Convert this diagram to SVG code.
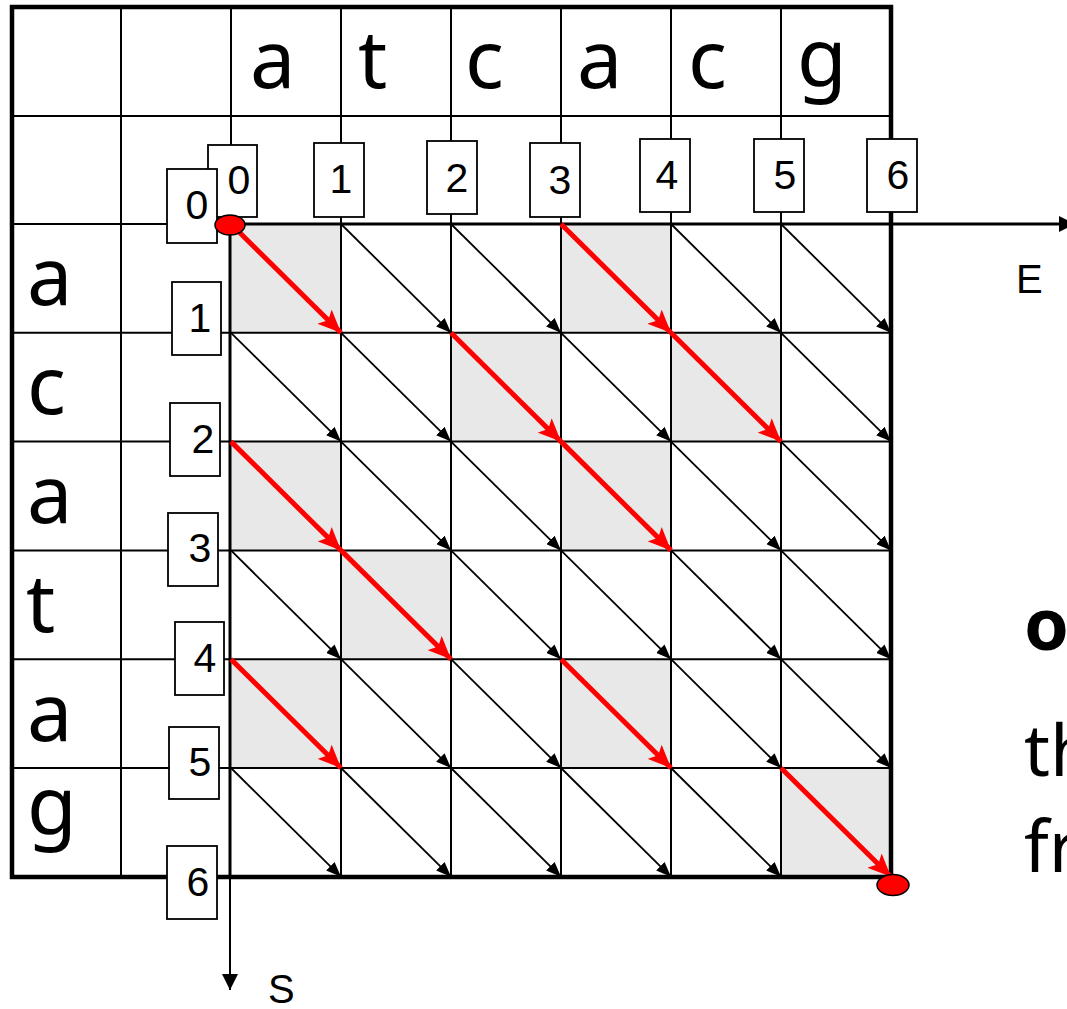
<svg xmlns="http://www.w3.org/2000/svg" width="1067" height="1009" viewBox="0 0 1067 1009">
<style>
.g{stroke:#000;stroke-width:2;fill:none}
.ax{stroke:#000;stroke-width:3;fill:none}
.sh{fill:#e8e8e8}
.bk{stroke:#000;stroke-width:1.8;marker-end:url(#ab)}
.rd{stroke:#ff0000;stroke-width:5;marker-end:url(#ar)}
.box{fill:#fff;stroke:#000;stroke-width:1.8}
.num{font-family:"Liberation Sans",Arial,sans-serif;font-size:41px;fill:#000;text-anchor:middle}
.let{font-family:"Noto Sans","DejaVu Sans",sans-serif;font-size:81px;fill:#000}
.lab{font-family:"Liberation Sans",Arial,sans-serif;font-size:40px;fill:#000}
.side{font-family:"Noto Sans","Open Sans",sans-serif;font-size:72px;fill:#000}
.dot{fill:#ff0000;stroke:#000;stroke-width:1.5}
</style>
<defs>
<marker id="ab" markerUnits="userSpaceOnUse" markerWidth="16" markerHeight="12" refX="15" refY="6" orient="auto">
<path d="M0,0 L15,6 L0,12 Z" fill="#000"/>
</marker>
<marker id="ar" markerUnits="userSpaceOnUse" markerWidth="24" markerHeight="20" refX="23" refY="10" orient="auto">
<path d="M0,0 L23,10 L0,20 L5,10 Z" fill="#ff0000"/>
</marker>
<marker id="ax" markerUnits="userSpaceOnUse" markerWidth="18" markerHeight="16" refX="16" refY="8" orient="auto">
<path d="M0,0 L16,8 L0,16 Z" fill="#000"/>
</marker>
</defs>
<rect width="1067" height="1009" fill="#fff"/>
<g id="shading">
<rect class="sh" x="231" y="224" width="110" height="108.8"/>
<rect class="sh" x="561" y="224" width="110" height="108.8"/>
<rect class="sh" x="451" y="332.8" width="110" height="108.8"/>
<rect class="sh" x="671" y="332.8" width="110" height="108.8"/>
<rect class="sh" x="231" y="441.6" width="110" height="108.8"/>
<rect class="sh" x="561" y="441.6" width="110" height="108.8"/>
<rect class="sh" x="341" y="550.4" width="110" height="108.8"/>
<rect class="sh" x="231" y="659.2" width="110" height="108.8"/>
<rect class="sh" x="561" y="659.2" width="110" height="108.8"/>
<rect class="sh" x="781" y="768" width="110" height="108.8"/>
</g>
<g id="grid">
<line class="g" x1="12" y1="116" x2="891" y2="116"/>
<line class="g" x1="12" y1="224" x2="231" y2="224"/>
<line class="g" x1="12" y1="332.8" x2="891" y2="332.8"/>
<line class="g" x1="12" y1="441.6" x2="891" y2="441.6"/>
<line class="g" x1="12" y1="550.4" x2="891" y2="550.4"/>
<line class="g" x1="12" y1="659.2" x2="891" y2="659.2"/>
<line class="g" x1="12" y1="768" x2="891" y2="768"/>
<line class="g" x1="121" y1="7" x2="121" y2="877"/>
<line class="g" x1="231" y1="7" x2="231" y2="224"/>
<line class="g" x1="341" y1="7" x2="341" y2="877"/>
<line class="g" x1="451" y1="7" x2="451" y2="877"/>
<line class="g" x1="561" y1="7" x2="561" y2="877"/>
<line class="g" x1="671" y1="7" x2="671" y2="877"/>
<line class="g" x1="781" y1="7" x2="781" y2="877"/>
<rect x="12" y="7" width="879" height="870" fill="none" stroke="#000" stroke-width="4.5"/>
</g>
<g id="axes">
<line class="ax" x1="231" y1="224" x2="1075" y2="224" marker-end="url(#ax)"/>
<line class="ax" x1="230" y1="224" x2="230" y2="877"/>
<line stroke="#000" stroke-width="2" x1="230" y1="877" x2="230" y2="990" marker-end="url(#ax)"/>
<text class="lab" x="1016" y="293">E</text>
<text class="lab" x="268" y="1003">S</text>
</g>
<g id="connectors">
<line class="bk" x1="341" y1="224" x2="451" y2="332.8"/>
<line class="bk" x1="451" y1="224" x2="561" y2="332.8"/>
<line class="bk" x1="671" y1="224" x2="781" y2="332.8"/>
<line class="bk" x1="781" y1="224" x2="891" y2="332.8"/>
<line class="bk" x1="231" y1="332.8" x2="341" y2="441.6"/>
<line class="bk" x1="341" y1="332.8" x2="451" y2="441.6"/>
<line class="bk" x1="561" y1="332.8" x2="671" y2="441.6"/>
<line class="bk" x1="781" y1="332.8" x2="891" y2="441.6"/>
<line class="bk" x1="341" y1="441.6" x2="451" y2="550.4"/>
<line class="bk" x1="451" y1="441.6" x2="561" y2="550.4"/>
<line class="bk" x1="671" y1="441.6" x2="781" y2="550.4"/>
<line class="bk" x1="781" y1="441.6" x2="891" y2="550.4"/>
<line class="bk" x1="231" y1="550.4" x2="341" y2="659.2"/>
<line class="bk" x1="451" y1="550.4" x2="561" y2="659.2"/>
<line class="bk" x1="561" y1="550.4" x2="671" y2="659.2"/>
<line class="bk" x1="671" y1="550.4" x2="781" y2="659.2"/>
<line class="bk" x1="781" y1="550.4" x2="891" y2="659.2"/>
<line class="bk" x1="341" y1="659.2" x2="451" y2="768"/>
<line class="bk" x1="451" y1="659.2" x2="561" y2="768"/>
<line class="bk" x1="671" y1="659.2" x2="781" y2="768"/>
<line class="bk" x1="781" y1="659.2" x2="891" y2="768"/>
<line class="bk" x1="231" y1="768" x2="341" y2="876.8"/>
<line class="bk" x1="341" y1="768" x2="451" y2="876.8"/>
<line class="bk" x1="451" y1="768" x2="561" y2="876.8"/>
<line class="bk" x1="561" y1="768" x2="671" y2="876.8"/>
<line class="bk" x1="671" y1="768" x2="781" y2="876.8"/>
<line class="rd" x1="231" y1="224" x2="341" y2="332.8"/>
<line class="rd" x1="561" y1="224" x2="671" y2="332.8"/>
<line class="rd" x1="451" y1="332.8" x2="561" y2="441.6"/>
<line class="rd" x1="671" y1="332.8" x2="781" y2="441.6"/>
<line class="rd" x1="231" y1="441.6" x2="341" y2="550.4"/>
<line class="rd" x1="561" y1="441.6" x2="671" y2="550.4"/>
<line class="rd" x1="341" y1="550.4" x2="451" y2="659.2"/>
<line class="rd" x1="231" y1="659.2" x2="341" y2="768"/>
<line class="rd" x1="561" y1="659.2" x2="671" y2="768"/>
<line class="rd" x1="781" y1="768" x2="891" y2="876.8"/>
</g>
<g id="letters">
<text class="let" x="250" y="88">a</text>
<text class="let" x="358" y="88">t</text>
<text class="let" x="465" y="88">c</text>
<text class="let" x="577" y="88">a</text>
<text class="let" x="688" y="88">c</text>
<text class="let" x="797" y="86">g</text>
<text class="let" x="27" y="305">a</text>
<text class="let" x="27" y="414">c</text>
<text class="let" x="27" y="523">a</text>
<text class="let" x="26" y="632">t</text>
<text class="let" x="27" y="741">a</text>
<text class="let" x="27" y="834">g</text>
</g>
<g id="col-labels">
<g id="c0"><rect class="box" x="208" y="145" width="49" height="72"/><text class="num" x="239" y="194">0</text></g>
<g id="c1"><rect class="box" x="314" y="143" width="50" height="74"/><text class="num" x="341" y="193">1</text></g>
<g id="c2"><rect class="box" x="427" y="141" width="50" height="73"/><text class="num" x="457" y="192">2</text></g>
<g id="c3"><rect class="box" x="530" y="143" width="50" height="74"/><text class="num" x="560" y="194">3</text></g>
<g id="c4"><rect class="box" x="640" y="139" width="50" height="73"/><text class="num" x="667" y="189">4</text></g>
<g id="c5"><rect class="box" x="754" y="139" width="50" height="73"/><text class="num" x="785" y="189">5</text></g>
<g id="c6"><rect class="box" x="867" y="139" width="50" height="73"/><text class="num" x="898" y="189">6</text></g>
</g>
<g id="row-labels">
<g id="r0"><rect class="box" x="167" y="169" width="50" height="74"/><text class="num" x="197" y="219">0</text></g>
<g id="r1"><rect class="box" x="172" y="282" width="49" height="73"/><text class="num" x="200" y="332">1</text></g>
<g id="r2"><rect class="box" x="170" y="403" width="50" height="73"/><text class="num" x="203" y="453">2</text></g>
<g id="r3"><rect class="box" x="168" y="513" width="50" height="73"/><text class="num" x="200" y="562">3</text></g>
<g id="r4"><rect class="box" x="175" y="622" width="49" height="73"/><text class="num" x="205" y="672">4</text></g>
<g id="r5"><rect class="box" x="169" y="727" width="50" height="72"/><text class="num" x="200" y="776">5</text></g>
<g id="r6"><rect class="box" x="167" y="846" width="50" height="73"/><text class="num" x="198" y="896">6</text></g>
</g>
<g id="endpoints">
<ellipse class="dot" cx="230" cy="225" rx="15" ry="10"/>
<ellipse class="dot" cx="893" cy="885" rx="16" ry="10.5"/>
</g>
<g id="side-text">
<text class="side" x="1024" y="650" font-weight="bold" font-size="96">o</text>
<text class="side" x="1024" y="776">th</text>
<text class="side" x="1024" y="872">fr</text>
</g>
</svg>
